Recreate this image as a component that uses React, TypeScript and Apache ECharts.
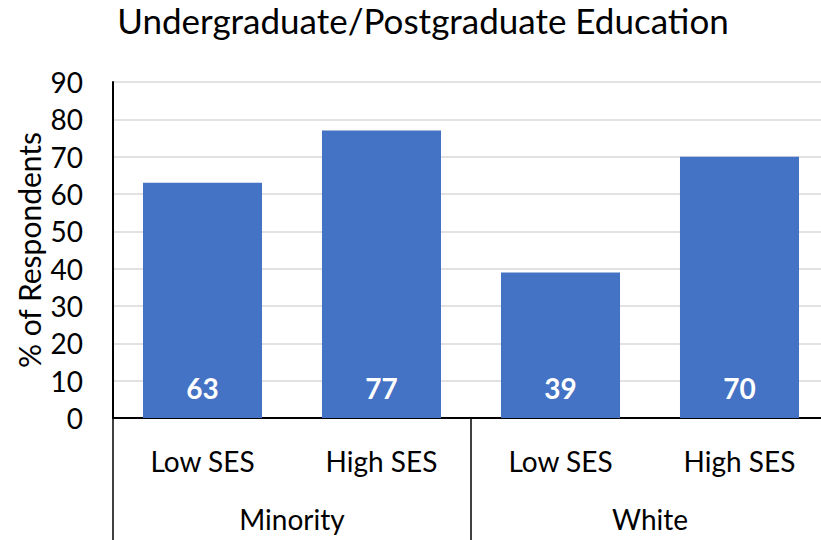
import React, { useEffect, useRef } from "react";
import * as echarts from "echarts";

const title = "Undergraduate/Postgraduate Education";
const subCategories = ["Low SES", "High SES", "Low SES", "High SES"];
const groups = ["Minority", "White"];
const values = [63, 77, 39, 70];
const yAxisName = "% of Respondents";
const yMin = 0;
const yMax = 90;
const yInterval = 10;

const FONT = "Lato, 'Open Sans', sans-serif";

export default function App() {
  const ref = useRef<HTMLDivElement>(null);
  useEffect(() => {
    document.body.style.margin = "0";
    const chart = echarts.init(ref.current!, undefined, { renderer: "svg" });
    chart.setOption({
      animation: false,
      backgroundColor: "#ffffff",
      textStyle: { fontFamily: FONT },
      title: {
        text: title,
        left: 421,
        textAlign: "center",
        top: 0,
        padding: 2,
        textStyle: { fontFamily: FONT, fontSize: 35, fontWeight: "normal", color: "#000000" },
      },
      grid: {
        left: 113,
        top: 82,
        width: 716,
        height: 336,
        containLabel: false,
        outerBoundsMode: "none",
      },
      xAxis: [
        {
          type: "category",
          data: subCategories,
          position: "bottom",
          axisLine: { show: true, lineStyle: { color: "#000000", width: 2 } },
          axisTick: { show: false },
          axisLabel: { color: "#000000", fontSize: 28, fontFamily: FONT, margin: 29 },
          splitLine: { show: false },
        },
        {
          type: "category",
          data: groups,
          position: "bottom",
          offset: 0,
          axisLine: { show: false },
          axisTick: { show: true, length: 124, lineStyle: { color: "#000000", width: 1.5 } },
          axisLabel: { color: "#000000", fontSize: 28, fontFamily: FONT, margin: 87 },
          splitLine: { show: false },
        },
      ],
      yAxis: {
        type: "value",
        min: yMin,
        max: yMax,
        interval: yInterval,
        name: yAxisName,
        nameLocation: "middle",
        nameGap: 69,
        nameRotate: 90,
        nameMoveOverlap: false,
        nameTextStyle: { color: "#000000", fontSize: 30, fontFamily: FONT },
        axisLine: { show: true, lineStyle: { color: "#000000", width: 2 } },
        axisTick: { show: false },
        axisLabel: { color: "#000000", fontSize: 28, fontFamily: FONT, margin: 30 },
        splitLine: { show: true, lineStyle: { color: "#d9d9d9", width: 1.5 } },
      },
      series: [
        {
          type: "bar",
          xAxisIndex: 0,
          data: values,
          barWidth: "66.5%",
          itemStyle: { color: "#4472C4" },
          label: {
            show: true,
            position: "insideBottom",
            distance: 16,
            color: "#ffffff",
            fontWeight: "bold",
            fontSize: 28,
            fontFamily: FONT,
          },
        },
      ],
    });
    return () => chart.dispose();
  }, []);
  return <div ref={ref} style={{ width: 821, height: 540 }} />;
}
